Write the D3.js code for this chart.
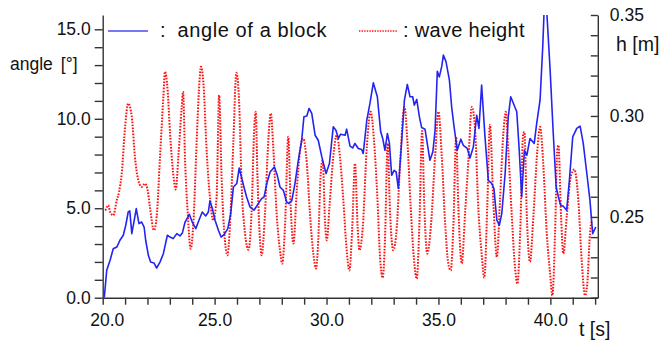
<!DOCTYPE html>
<html>
<head>
<meta charset="utf-8">
<script src="https://cdn.jsdelivr.net/npm/d3@7"></script>
<style>
  body { margin: 0; background: #fff; }
  svg text { font-family: "Liberation Sans", Arial, sans-serif; fill: #111; }
</style>
</head>
<body>
<script>
// angle of a block [deg]
const tAngle = [20.07, 20.18, 20.33, 20.47, 20.63, 20.77, 20.92, 21.03, 21.14, 21.21, 21.30, 21.41, 21.50, 21.62, 21.74, 21.85, 21.92, 22.04, 22.14, 22.29,
  22.41, 22.56, 22.71, 22.89, 23.01, 23.15, 23.31, 23.45, 23.56, 23.68, 23.87, 24.00, 24.16, 24.30, 24.45, 24.60, 24.72, 24.79, 24.90, 25.02,
  25.17, 25.29, 25.43, 25.59, 25.72, 25.84, 25.99, 26.10, 26.31, 26.43, 26.58, 26.76, 26.95, 27.10, 27.21, 27.33, 27.48, 27.67, 27.80, 27.92,
  28.07, 28.22, 28.32, 28.45, 28.59, 28.74, 28.89, 28.99, 29.12, 29.22, 29.34, 29.49, 29.63, 29.79, 29.98, 30.13, 30.30, 30.42, 30.53, 30.63,
  30.83, 30.90, 31.05, 31.17, 31.27, 31.42, 31.57, 31.64, 31.80, 31.94, 32.09, 32.27, 32.42, 32.51, 32.61, 32.72, 32.81, 32.91, 33.02, 33.11,
  33.21, 33.36, 33.48, 33.61, 33.73, 33.85, 33.92, 34.03, 34.15, 34.25, 34.40, 34.50, 34.62, 34.75, 34.85, 34.95, 35.04, 35.15, 35.22, 35.34,
  35.49, 35.59, 35.70, 35.84, 36.00, 36.11, 36.29, 36.41, 36.56, 36.71, 36.81, 36.93, 37.08, 37.23, 37.38, 37.48, 37.61, 37.72, 37.83, 37.98,
  38.12, 38.23, 38.50, 38.61, 38.72, 38.84, 38.95, 39.09, 39.28, 39.39, 39.54, 39.66, 39.72, 39.84, 39.99, 40.13, 40.26, 40.36, 40.46, 40.58,
  40.73, 40.85, 41.00, 41.18, 41.33, 41.47, 41.63, 41.77, 41.89, 42.03];
const angle = [0.0, 1.53, 2.09, 2.74, 2.83, 3.21, 3.49, 4.05, 4.79, 4.85, 3.58, 4.33, 4.98, 4.14, 4.23, 3.95, 3.21, 2.37, 1.99, 1.94,
  1.66, 1.99, 2.46, 3.49, 3.39, 3.30, 3.58, 3.45, 3.62, 4.23, 4.66, 4.23, 3.86, 4.33, 4.79, 4.57, 4.79, 5.41, 4.98, 4.33,
  3.77, 3.39, 3.54, 3.86, 4.70, 6.19, 6.38, 7.25, 6.19, 5.63, 5.07, 4.89, 5.26, 5.54, 5.63, 6.38, 7.03, 7.31, 6.84, 6.19,
  6.00, 5.35, 5.26, 5.44, 6.38, 7.68, 8.80, 10.11, 10.15, 10.58, 10.30, 9.08, 8.80, 7.87, 6.94, 7.50, 9.55, 9.36, 8.90, 9.14,
  9.08, 9.42, 8.47, 8.37, 8.62, 8.34, 8.28, 8.06, 9.92, 10.86, 12.01, 11.23, 9.27, 8.90, 8.24, 9.18, 8.62, 6.84, 7.12, 7.03,
  6.10, 8.80, 11.04, 11.92, 11.23, 11.23, 10.76, 11.08, 10.11, 9.51, 9.42, 8.62, 7.68, 8.15, 9.36, 12.66, 12.34, 12.94, 13.56, 13.18,
  12.16, 10.67, 9.55, 8.24, 8.86, 8.52, 8.34, 7.81, 8.43, 10.20, 9.46, 11.88, 8.99, 6.56, 6.38, 6.10, 4.33, 4.05, 4.70, 6.94,
  10.11, 11.23, 10.39, 8.24, 5.63, 8.24, 7.96, 8.90, 8.62, 9.74, 11.04, 14.02, 16.0, 16.0, 12.72, 9.18, 6.19, 5.63, 5.17, 5.11,
  4.89, 6.56, 8.99, 9.46, 9.59, 8.62, 6.94, 5.44, 3.58, 3.95];

// wave height [m]
const tWave = [20.00, 20.10, 20.25, 20.33, 20.47, 20.63, 20.73, 20.85, 21.00, 21.14, 21.30, 21.44, 21.59, 21.74, 21.89, 22.01, 22.11, 22.29, 22.41, 22.56,
  22.71, 22.78, 22.90, 23.01, 23.15, 23.26, 23.38, 23.53, 23.59, 23.68, 23.80, 23.93, 24.05, 24.20, 24.30, 24.39, 24.50, 24.65, 24.79, 24.94,
  25.09, 25.20, 25.32, 25.46, 25.57, 25.69, 25.84, 25.97, 26.09, 26.21, 26.36, 26.51, 26.66, 26.76, 26.84, 26.91, 27.03, 27.10, 27.25, 27.40,
  27.51, 27.62, 27.77, 27.92, 28.02, 28.15, 28.29, 28.40, 28.52, 28.67, 28.82, 28.96, 29.12, 29.26, 29.41, 29.53, 29.63, 29.74, 29.83, 29.93,
  30.01, 30.13, 30.30, 30.46, 30.60, 30.75, 30.90, 31.02, 31.15, 31.27, 31.39, 31.47, 31.62, 31.80, 31.97, 32.12, 32.27, 32.39, 32.51, 32.61,
  32.73, 32.84, 32.98, 33.14, 33.28, 33.48, 33.61, 33.76, 33.91, 34.03, 34.15, 34.27, 34.37, 34.50, 34.66, 34.85, 35.00, 35.15, 35.30, 35.44,
  35.55, 35.67, 35.79, 35.89, 36.04, 36.19, 36.34, 36.49, 36.64, 36.78, 36.93, 37.05, 37.18, 37.30, 37.45, 37.61, 37.75, 37.90, 38.01, 38.12,
  38.28, 38.42, 38.53, 38.65, 38.79, 38.84, 38.95, 39.09, 39.24, 39.42, 39.54, 39.69, 39.84, 39.99, 40.09, 40.21, 40.31, 40.36, 40.48, 40.58,
  40.73, 40.91, 41.07, 41.25, 41.40, 41.55, 41.65, 41.77, 41.85];
const wave = [0.2541, 0.2533, 0.2558, 0.2525, 0.2508, 0.2583, 0.2624, 0.2715, 0.2946, 0.3062, 0.2996, 0.2797, 0.2682, 0.2649, 0.2665, 0.2632, 0.2549, 0.2434, 0.2500, 0.2797,
  0.3095, 0.3219, 0.3128, 0.2914, 0.2715, 0.2636, 0.2797, 0.3045, 0.3120, 0.2781, 0.2517, 0.2343, 0.2467, 0.2880, 0.3128, 0.3244, 0.3162, 0.2814, 0.2599, 0.2483,
  0.2599, 0.3103, 0.2665, 0.2384, 0.2310, 0.2467, 0.2880, 0.3214, 0.3079, 0.2649, 0.2417, 0.2338, 0.2549, 0.2914, 0.3021, 0.2715, 0.2384, 0.2310, 0.2517, 0.2880,
  0.3013, 0.2847, 0.2517, 0.2335, 0.2269, 0.2467, 0.2897, 0.2549, 0.2368, 0.2632, 0.2831, 0.2889, 0.2765, 0.2517, 0.2318, 0.2244, 0.2384, 0.2715, 0.2781, 0.2483,
  0.2384, 0.2549, 0.2797, 0.2905, 0.2797, 0.2583, 0.2335, 0.2235, 0.2450, 0.2765, 0.2450, 0.2335, 0.2450, 0.2847, 0.3021, 0.2880, 0.2600, 0.2301, 0.2199, 0.2384,
  0.2864, 0.2517, 0.2335, 0.2450, 0.2748, 0.3045, 0.2880, 0.2549, 0.2285, 0.2194, 0.2467, 0.2926, 0.2549, 0.2318, 0.2450, 0.2797, 0.3021, 0.2797, 0.2467, 0.2269,
  0.2235, 0.2467, 0.2897, 0.2549, 0.2269, 0.2517, 0.2781, 0.3045, 0.2930, 0.2549, 0.2318, 0.2199, 0.2549, 0.2955, 0.2583, 0.2301, 0.2583, 0.2914, 0.3021, 0.2831,
  0.2500, 0.2252, 0.2169, 0.2417, 0.2914, 0.2921, 0.2500, 0.2277, 0.2500, 0.2831, 0.2946, 0.2748, 0.2417, 0.2219, 0.2111, 0.2417, 0.2831, 0.2855, 0.2500, 0.2318,
  0.2500, 0.2698, 0.2735, 0.2583, 0.2285, 0.2111, 0.2169, 0.2417, 0.2483];

const xTicks = d3.range(20, 43);
const xLabels = [20, 25, 30, 35, 40];
const yLeftTicks = d3.range(0, 16);
const yLeftLabels = [0, 5, 10, 15];
const yRightTicks = d3.range(21, 36).map(d => d / 100);
const yRightLabels = [0.25, 0.30, 0.35];

const width = 664, height = 343;
const plotLeft = 102.7, plotRight = 597.8, plotTop = 15, plotBottom = 297.7;

const svg = d3.select("body").append("svg")
  .attr("width", width)
  .attr("height", height);

const x = d3.scaleLinear().domain([20, 42.12]).range([plotLeft, plotRight]);
const yL = d3.scaleLinear().domain([0, 15.8]).range([plotBottom, plotTop]);
const yR = d3.scaleLinear().domain([0.21, 0.35]).range([plotBottom, plotTop]);

svg.append("clipPath").attr("id", "plot")
  .append("rect")
  .attr("x", plotLeft).attr("y", plotTop)
  .attr("width", plotRight - plotLeft).attr("height", plotBottom - plotTop);

const isLabel = (list, d) => list.some(v => Math.abs(v - d) < 1e-6);

// axes
const gx = svg.append("g")
  .attr("transform", "translate(0," + plotBottom + ")")
  .call(d3.axisBottom(x)
    .tickValues(xTicks)
    .tickFormat(d => isLabel(xLabels, d) ? d.toFixed(1) : "")
    .tickSize(7).tickSizeOuter(0).tickPadding(8.5));
// first label sits a little to the right, clear of "0.0"
gx.selectAll(".tick text").filter(d => d === 20).attr("dx", 4);

const gl = svg.append("g")
  .attr("transform", "translate(" + plotLeft + ",0)")
  .call(d3.axisLeft(yL)
    .tickValues(yLeftTicks)
    .tickFormat(d => isLabel(yLeftLabels, d) ? d.toFixed(1) : "")
    .tickSize(8).tickSizeOuter(0).tickPadding(4));

const gr = svg.append("g")
  .attr("transform", "translate(" + plotRight + ",0)")
  .call(d3.axisRight(yR)
    .tickValues(yRightTicks)
    .tickFormat(d => isLabel(yRightLabels, d) ? d.toFixed(2) : "")
    .tickSize(-7).tickSizeOuter(0).tickPadding(12));

[gx, gl, gr].forEach(g => {
  g.selectAll("path, line").attr("stroke", "#333").attr("stroke-width", 1.4);
  g.selectAll("text").attr("font-size", 17.5).attr("fill", "#111")
    .attr("font-family", "'Liberation Sans', Arial, sans-serif");
});

// series
const plot = svg.append("g").attr("clip-path", "url(#plot)");

const waveLine = d3.line()
  .x(d => x(d[0]))
  .y(d => yR(d[1]))
  .curve(d3.curveMonotoneX);

plot.append("path")
  .datum(d3.zip(tWave, wave))
  .attr("fill", "none")
  .attr("stroke", "#ff1010")
  .attr("stroke-width", 2)
  .attr("stroke-dasharray", "1.6,1.4")
  .attr("d", waveLine);

const angleLine = d3.line()
  .x(d => x(d[0]))
  .y(d => yL(d[1]));

plot.append("path")
  .datum(d3.zip(tAngle, angle))
  .attr("fill", "none")
  .attr("stroke", "#2424f0")
  .attr("stroke-width", 1.6)
  .attr("stroke-linejoin", "round")
  .attr("d", angleLine);

// axis titles
const yTitle = svg.append("text").attr("x", 10).attr("y", 70).attr("font-size", 17.5);
yTitle.append("tspan").text("angle");
yTitle.append("tspan").attr("dx", 8).text("[°]");

svg.append("text").attr("x", 616).attr("y", 51).attr("font-size", 19.5).text("h [m]");
svg.append("text").attr("x", 579).attr("y", 336).attr("font-size", 19.5).text("t [s]");

// legend
svg.append("line")
  .attr("x1", 108).attr("x2", 148).attr("y1", 31).attr("y2", 31)
  .attr("stroke", "#4a4af5").attr("stroke-width", 1.6);
svg.append("text").attr("x", 160).attr("y", 37).attr("font-size", 20).text(":");
svg.append("text").attr("x", 177.5).attr("y", 37).attr("font-size", 20)
  .attr("letter-spacing", 0.6).text("angle of a block");

svg.append("line")
  .attr("x1", 359).attr("x2", 397).attr("y1", 31).attr("y2", 31)
  .attr("stroke", "#ff1010").attr("stroke-width", 1.5)
  .attr("stroke-dasharray", "1.4,1.2");
svg.append("text").attr("x", 403).attr("y", 37).attr("font-size", 20)
  .attr("letter-spacing", 0.3).text(": wave height");
</script>
</body>
</html>
